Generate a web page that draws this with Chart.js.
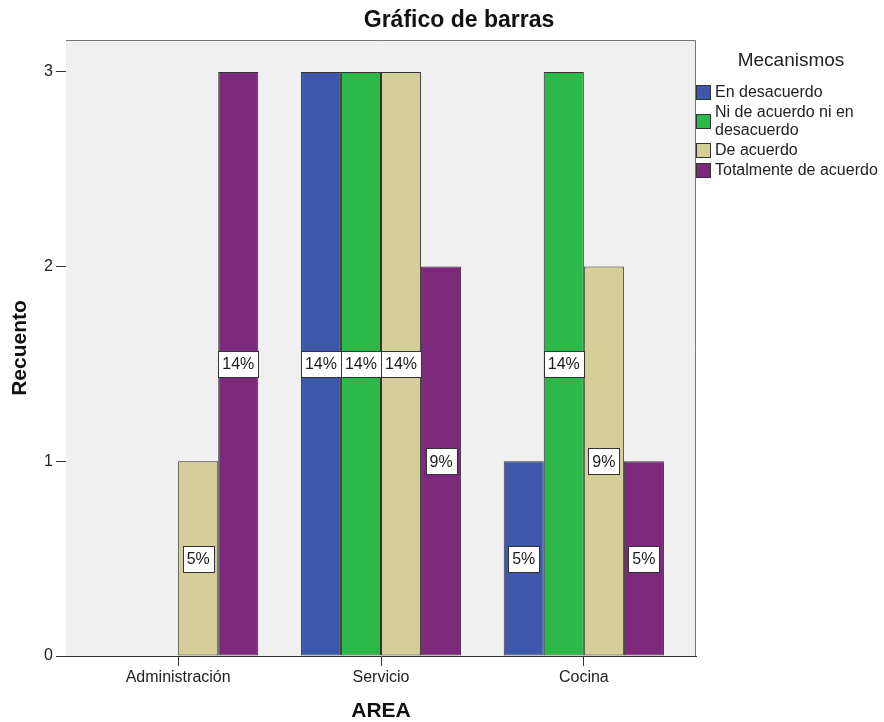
<!DOCTYPE html>
<html>
<head>
<meta charset="utf-8">
<script src="https://cdn.jsdelivr.net/npm/chart.js@4/dist/chart.umd.min.js"></script>
<style>
  html, body { margin: 0; padding: 0; background: #fff; }
  #wrap { position: relative; width: 884px; height: 722px; font-family: "Liberation Sans", Arial, sans-serif; }
  #chart { position: absolute; left: 0; top: 0; }
  #title { position: absolute; left: 459px; top: 6px; transform: translateX(-50%); font-weight: bold; font-size: 23px; color: #111; white-space: nowrap; }
  #legend { position: absolute; left: 696px; top: 48px; width: 188px; color: #222; }
  #legend .lt { font-size: 19px; text-align: center; margin-left: 40px; width: 110px; line-height: 24px; margin-bottom: 11px; }
  #legend .it { display: flex; align-items: center; font-size: 16px; line-height: 18px; margin-bottom: 2px; }
  #legend .sw { width: 13px; height: 13px; border: 1px solid #333; margin-right: 4px; flex: none; }
</style>
</head>
<body>
<div id="wrap">
  <canvas id="chart" width="884" height="722"></canvas>
  <div id="title">Gráfico de barras</div>
  <div id="legend"></div>
</div>
<script>
// Categories (AREA) and counts per "Mecanismos" response
const areas = ["Administración", "Servicio", "Cocina"];
const seriesNames = ["En desacuerdo", "Ni de acuerdo ni en desacuerdo", "De acuerdo", "Totalmente de acuerdo"];
const legendLines = [["En desacuerdo"], ["Ni de acuerdo ni en", "desacuerdo"], ["De acuerdo"], ["Totalmente de acuerdo"]];
const enDesacuerdo = [0, 3, 1];
const niDeAcuerdo = [0, 3, 3];
const deAcuerdo = [1, 3, 2];
const totalmente = [3, 2, 1];
// Percentage labels shown inside each bar
const pctEnDesacuerdo = ["", "14%", "5%"];
const pctNiDeAcuerdo = ["", "14%", "14%"];
const pctDeAcuerdo = ["5%", "14%", "9%"];
const pctTotalmente = ["14%", "9%", "5%"];
const yTicks = [0, 1, 2, 3];

const colors = ["#3E58AC", "#2DB84A", "#D4CE98", "#7C297C"];
const values = [enDesacuerdo, niDeAcuerdo, deAcuerdo, totalmente];
const pcts = [pctEnDesacuerdo, pctNiDeAcuerdo, pctDeAcuerdo, pctTotalmente];

const FONT = '"Liberation Sans", Arial, sans-serif';

// Plot background and frame
const framePlugin = {
  id: 'frame',
  beforeDatasetsDraw(chart) {
    const a = chart.chartArea, ctx = chart.ctx;
    ctx.save();
    ctx.fillStyle = '#F0F0F0';
    ctx.fillRect(a.left, a.top, a.right - a.left, a.bottom - a.top);
    ctx.restore();
  },
  afterDatasetsDraw(chart) {
    const a = chart.chartArea, ctx = chart.ctx;
    ctx.save();
    ctx.strokeStyle = '#777';
    ctx.lineWidth = 1;
    ctx.beginPath();
    ctx.moveTo(a.left, a.top + 0.5);
    ctx.lineTo(a.right - 0.5, a.top + 0.5);
    ctx.lineTo(a.right - 0.5, a.bottom);
    ctx.stroke();
    ctx.restore();
  }
};

// White boxed percentage labels at mid-height of each bar
const pctPlugin = {
  id: 'pctLabels',
  afterDatasetsDraw(chart) {
    const ctx = chart.ctx, y = chart.scales.y;
    ctx.save();
    ctx.font = '16px ' + FONT;
    ctx.textAlign = 'center';
    ctx.textBaseline = 'middle';
    chart.data.datasets.forEach((ds, i) => {
      const meta = chart.getDatasetMeta(i);
      meta.data.forEach((bar, j) => {
        const v = ds.data[j].y;
        const txt = pcts[i][j];
        if (!v || !txt) return;
        const cx = bar.x;
        const cy = y.getPixelForValue(v / 2);
        const w = Math.round(ctx.measureText(txt).width + 8);
        const h = 26;
        const x0 = Math.round(cx - w / 2) + 0.5, y0 = Math.round(cy - h / 2) + 0.5;
        ctx.fillStyle = '#fff';
        ctx.fillRect(x0, y0, w, h);
        ctx.strokeStyle = '#333';
        ctx.lineWidth = 1;
        ctx.strokeRect(x0, y0, w, h);
        ctx.fillStyle = '#1a1a1a';
        ctx.fillText(txt, cx, cy + 1);
      });
    });
    ctx.restore();
  }
};

new Chart(document.getElementById('chart'), {
  type: 'bar',
  data: {
    datasets: seriesNames.map((n, i) => ({
      label: n,
      data: areas.map((a, j) => ({ x: j, y: values[i][j] })),
      backgroundColor: colors[i],
      borderColor: '#333',
      borderWidth: 1,
      borderSkipped: false,
      categoryPercentage: 0.79,
      barPercentage: 1
    }))
  },
  options: {
    responsive: false,
    animation: false,
    devicePixelRatio: 1,
    layout: { padding: { top: 40, right: 188, left: 0, bottom: 0 } },
    plugins: { legend: { display: false }, tooltip: { enabled: false } },
    scales: {
      x: {
        type: 'linear',
        min: -0.553,
        max: 2.553,
        offset: false,
        grid: { offset: false, drawOnChartArea: false, drawTicks: true, tickLength: 10, color: '#333' },
        border: { display: true, color: '#333', width: 1 },
        afterBuildTicks(s) { s.ticks = areas.map((a, j) => ({ value: j })); },
        ticks: { font: { family: FONT, size: 16 }, color: '#222', padding: 2, maxRotation: 0, autoSkip: false, callback: v => areas[v] },
        title: { display: true, text: 'AREA', font: { family: FONT, size: 21, weight: 'bold', lineHeight: 1 }, color: '#111', padding: 0 },
        afterFit(s) { s.height = 66; }
      },
      y: {
        min: 0,
        max: 3.164,
        grid: { drawOnChartArea: false, drawTicks: true, tickLength: 10, color: '#333' },
        border: { display: true, color: '#333', width: 1 },
        ticks: { stepSize: 1, font: { family: FONT, size: 16 }, color: '#222', padding: 3 },
        afterBuildTicks(s) { s.ticks = yTicks.map(v => ({ value: v })); },
        title: { display: true, text: 'Recuento', font: { family: FONT, size: 21, weight: 'bold', lineHeight: 1 }, color: '#111', padding: { top: 10, bottom: 0 } },
        afterFit(s) { s.width = 66; }
      }
    }
  },
  plugins: [framePlugin, pctPlugin]
});

// Legend
const lg = document.getElementById('legend');
const lt = document.createElement('div');
lt.className = 'lt';
lt.textContent = 'Mecanismos';
lg.appendChild(lt);
legendLines.forEach((lines, i) => {
  const it = document.createElement('div');
  it.className = 'it';
  const sw = document.createElement('div');
  sw.className = 'sw';
  sw.style.background = colors[i];
  const tx = document.createElement('div');
  tx.innerHTML = lines.map(l => l.replace(/&/g, '&amp;')).join('<br>');
  it.appendChild(sw);
  it.appendChild(tx);
  lg.appendChild(it);
});
</script>
</body>
</html>
